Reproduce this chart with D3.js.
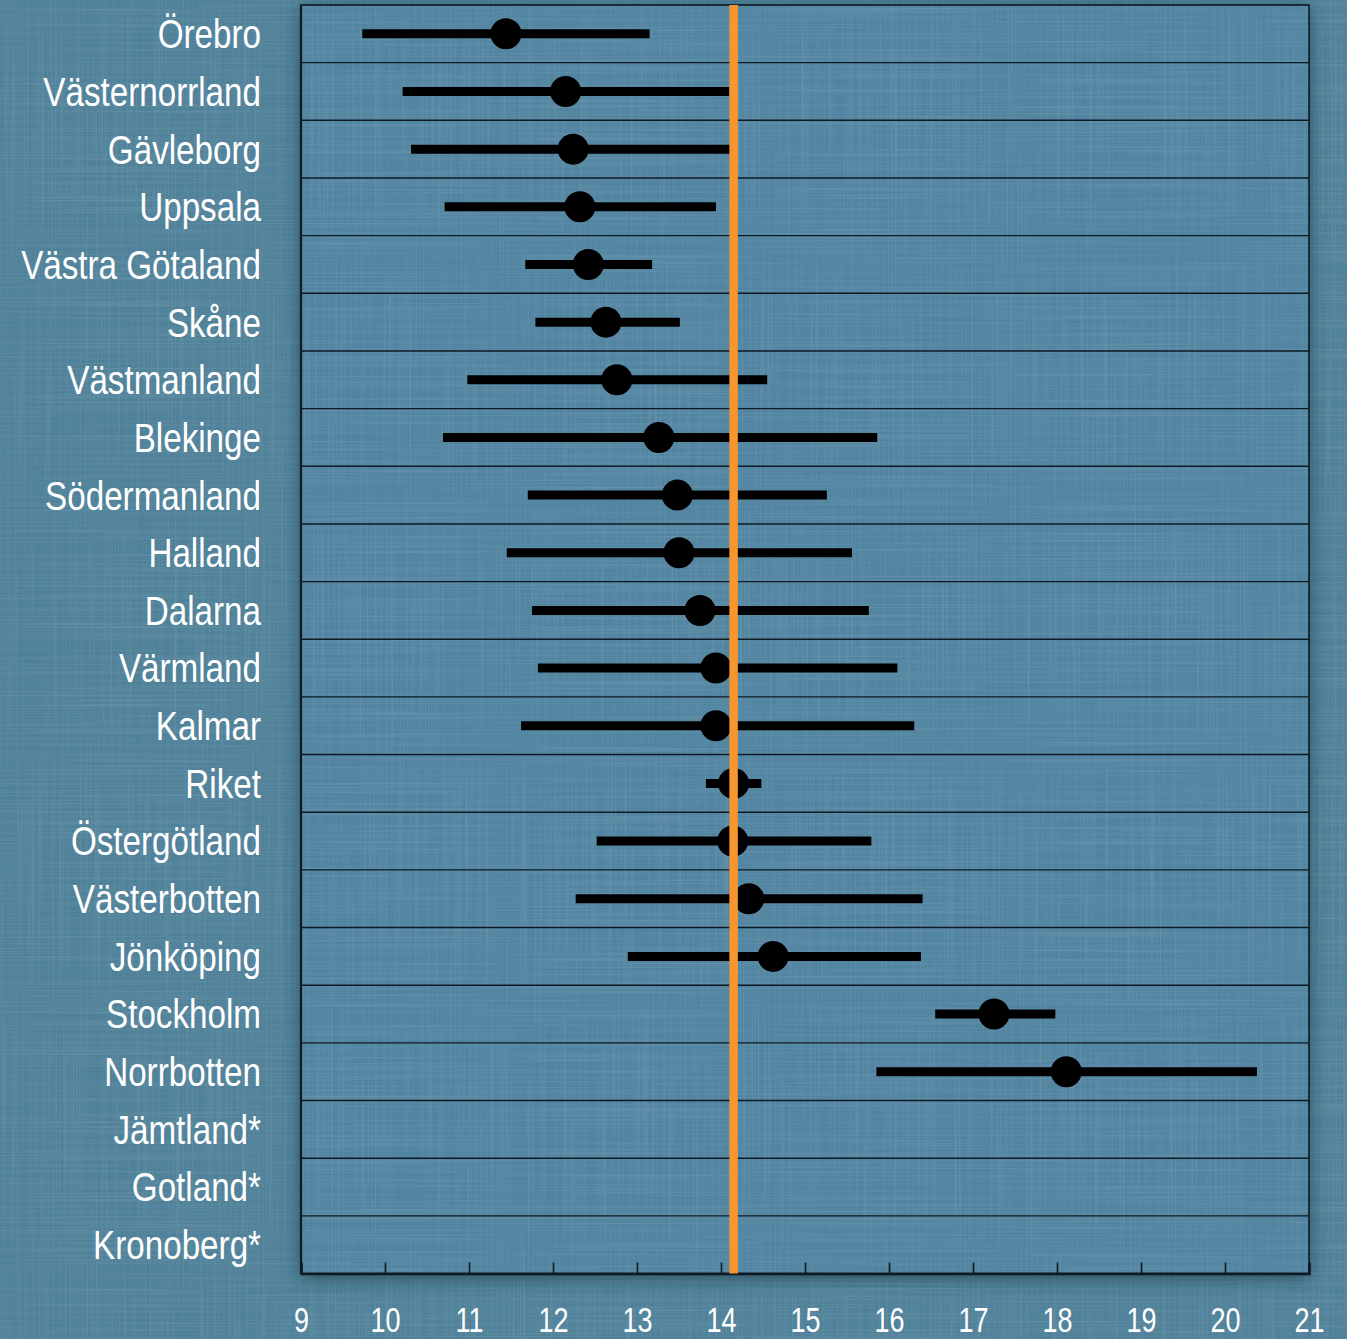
<!DOCTYPE html>
<html><head><meta charset="utf-8">
<script src="https://cdn.jsdelivr.net/npm/d3@7"></script>
<style>
html,body{margin:0;padding:0;background:#4f8199;}
svg{display:block;}
</style></head>
<body>
<script>
const regions = ["Örebro","Västernorrland","Gävleborg","Uppsala","Västra Götaland","Skåne","Västmanland","Blekinge","Södermanland","Halland","Dalarna","Värmland","Kalmar","Riket","Östergötland","Västerbotten","Jönköping","Stockholm","Norrbotten","Jämtland*","Gotland*","Kronoberg*"];
const values = [11.44,12.15,12.24,12.32,12.42,12.63,12.76,13.26,13.48,13.50,13.75,13.94,13.94,14.15,14.14,14.33,14.62,17.25,18.11,null,null,null];
const lows   = [9.73,10.21,10.31,10.71,11.67,11.79,10.98,10.69,11.70,11.45,11.75,11.82,11.62,13.82,12.52,12.27,12.89,16.55,15.85,null,null,null];
const highs  = [13.15,14.10,14.19,13.94,13.18,13.51,14.55,15.86,15.26,15.56,15.76,16.10,16.30,14.48,15.79,16.40,16.38,17.98,20.38,null,null,null];
const refValue = 14.15;
const xTicks = [9,10,11,12,13,14,15,16,17,18,19,20,21];

const W = 1347, H = 1339;
const m = {left:301, right:W-1309, top:5, bottom:H-1273.5};
const FONT = "'Liberation Sans', Arial, sans-serif";
const SX = 0.83;
const svg = d3.select("body").append("svg").attr("width",W).attr("height",H);
const defs = svg.append("defs");

// linen texture
const tex = defs.append("filter").attr("id","linen").attr("x",0).attr("y",0).attr("width","100%").attr("height","100%");
tex.append("feTurbulence").attr("type","fractalNoise").attr("baseFrequency","0.004 0.6").attr("numOctaves",2).attr("seed",3).attr("result","n1");
tex.append("feColorMatrix").attr("in","n1").attr("type","matrix")
  .attr("values","0 0 0 0 1  0 0 0 0 1  0 0 0 0 1  0 0 0 -2.2 1.25").attr("result","a1");
tex.append("feTurbulence").attr("type","fractalNoise").attr("baseFrequency","0.6 0.004").attr("numOctaves",2).attr("seed",7).attr("result","n2");
tex.append("feColorMatrix").attr("in","n2").attr("type","matrix")
  .attr("values","0 0 0 0 1  0 0 0 0 1  0 0 0 0 1  0 0 0 -2.2 1.2").attr("result","a2");
tex.append("feMerge").selectAll("feMergeNode").data(["a1","a2"]).join("feMergeNode").attr("in",d=>d);

const shadow = defs.append("filter").attr("id","shadow").attr("x","-10%").attr("y","-10%").attr("width","120%").attr("height","120%");
shadow.append("feDropShadow").attr("dx",0).attr("dy",4).attr("stdDeviation",9).attr("flood-color","#1a3442").attr("flood-opacity",0.75);

svg.append("rect").attr("width",W).attr("height",H).attr("fill","#4f8199");
svg.append("rect").attr("width",W).attr("height",H).attr("fill","#000").attr("filter","url(#linen)").attr("opacity",0.1);

const x = d3.scaleLinear().domain([9,21]).range([m.left, W-m.right]);
const y = d3.scaleBand().domain(regions).range([m.top, H-m.bottom]).padding(0);

// plot panel with shadow
svg.append("rect").attr("x",m.left).attr("y",m.top).attr("width",x(21)-x(9)).attr("height",(H-m.bottom)-m.top)
  .attr("fill","#5184a0").attr("filter","url(#shadow)");
svg.append("rect").attr("x",m.left).attr("y",m.top).attr("width",x(21)-x(9)).attr("height",(H-m.bottom)-m.top)
  .attr("fill","#000").attr("filter","url(#linen)").attr("opacity",0.1);

// row lines
svg.append("g").selectAll("line").data(regions.slice(1)).join("line")
  .attr("x1",m.left).attr("x2",W-m.right)
  .attr("y1",d=>y(d)).attr("y2",d=>y(d))
  .attr("stroke","#0d1a22").attr("stroke-width",1.4);

// frame
svg.append("rect").attr("x",m.left).attr("y",m.top).attr("width",x(21)-x(9)).attr("height",(H-m.bottom)-m.top)
  .attr("fill","none").attr("stroke","#0d1a22").attr("stroke-width",1.6);

// x axis
const xAxis = d3.axisBottom(x).tickValues(xTicks).tickSize(-11).tickPadding(34).tickFormat(d3.format("d"));
const gx = svg.append("g").attr("transform",`translate(0,${H-m.bottom})`).call(xAxis);
gx.select(".domain").attr("stroke","#0d1a22").attr("stroke-width",2.5);
gx.selectAll(".tick line").attr("stroke","#0d1a22").attr("stroke-width",1.6);
gx.selectAll(".tick text").attr("fill","#fff").attr("font-family",FONT)
  .attr("font-size",35).attr("dy","0.71em").attr("transform",`scale(${SX*0.93},1)`);
// left axis line
svg.append("line").attr("x1",m.left).attr("x2",m.left).attr("y1",m.top).attr("y2",H-m.bottom)
  .attr("stroke","#0d1a22").attr("stroke-width",2.2);

// y labels
const yAxis = d3.axisLeft(y).tickSize(0).tickPadding(40);
const gy = svg.append("g").attr("transform",`translate(${m.left},0)`).call(yAxis);
gy.select(".domain").remove();
gy.selectAll(".tick text").attr("fill","#fff").attr("font-family",FONT)
  .attr("font-size",40).attr("dy","0.36em")
  .attr("x",-40/SX).attr("transform",`scale(${SX},1)`);

const data = regions.map((r,i)=>({r, v:values[i], lo:lows[i], hi:highs[i]})).filter(d=>d.v!=null);

const marks = svg.append("g");
marks.selectAll("line.err").data(data).join("line").attr("class","err")
  .attr("x1",d=>x(d.lo)).attr("x2",d=>x(d.hi))
  .attr("y1",d=>y(d.r)+y.bandwidth()/2).attr("y2",d=>y(d.r)+y.bandwidth()/2)
  .attr("stroke","#000").attr("stroke-width",9);
marks.selectAll("circle").data(data).join("circle")
  .attr("cx",d=>x(d.v)).attr("cy",d=>y(d.r)+y.bandwidth()/2).attr("r",15.5).attr("fill","#000");

svg.append("line").attr("x1",x(refValue)).attr("x2",x(refValue)).attr("y1",m.top).attr("y2",H-m.bottom)
  .attr("stroke","#f7962e").attr("stroke-width",8.5);
</script>
</body></html>
